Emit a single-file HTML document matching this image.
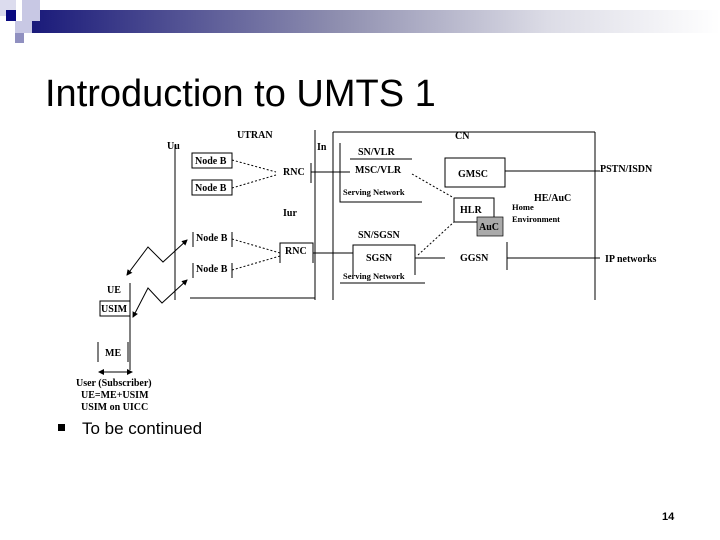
<!DOCTYPE html>
<html><head><meta charset="utf-8"><style>
html,body{margin:0;padding:0;background:#fff;width:720px;height:540px;overflow:hidden}
svg{display:block}
.s{font-family:"Liberation Serif",serif;font-weight:bold;font-size:10px}
</style></head><body>
<svg width="720" height="540" viewBox="0 0 720 540" xmlns="http://www.w3.org/2000/svg">
<defs>
<linearGradient id="g" x1="0" x2="1" y1="0" y2="0">
<stop offset="0" stop-color="#1a1a7a"/><stop offset="0.45" stop-color="#9090b0"/><stop offset="0.75" stop-color="#dcdce6"/><stop offset="1" stop-color="#fff"/>
</linearGradient>
<marker id="a" markerWidth="6" markerHeight="6" refX="5" refY="3" orient="auto"><path d="M0,0L6,3L0,6z" fill="#000"/></marker>
<marker id="b" markerWidth="6" markerHeight="6" refX="1" refY="3" orient="auto"><path d="M6,0L0,3L6,6z" fill="#000"/></marker>
</defs>
<rect x="32" y="10" width="688" height="23" fill="url(#g)"/>
<rect x="0" y="0" width="16" height="16" fill="#dcdcee"/>
<rect x="22" y="0" width="18" height="21" fill="#c8c8e4"/>
<rect x="6" y="10" width="10" height="11" fill="#0a0a80"/>
<rect x="15" y="21" width="17" height="12" fill="#c8c8e4"/>
<rect x="15" y="33" width="9" height="10" fill="#9090c0"/>
<text x="45" y="106" font-family="Liberation Sans,sans-serif" font-size="38" fill="#000">Introduction to UMTS 1</text>

<g stroke="#000" stroke-width="1" fill="none">
<line x1="175" y1="145" x2="175" y2="300"/>
<line x1="190" y1="298" x2="315" y2="298"/>
<line x1="315" y1="130" x2="315" y2="300"/>
<line x1="333" y1="132" x2="333" y2="300"/>
<line x1="333" y1="132" x2="595" y2="132"/>
<line x1="595" y1="132" x2="595" y2="300"/>
<rect x="192" y="153" width="40" height="15"/>
<rect x="192" y="180" width="40" height="15"/>
<polyline points="193,247 193,232"/><line x1="232" y1="232" x2="232" y2="247"/>
<polyline points="193,278 193,263"/><line x1="232" y1="263" x2="232" y2="278"/>
<line x1="311" y1="163" x2="311" y2="183"/>
<line x1="311" y1="172" x2="350" y2="172"/>
<polyline points="280,263 280,243 313,243 313,263"/>
<line x1="313" y1="253" x2="353" y2="253"/>
<g stroke-dasharray="2,2">
<line x1="232" y1="160" x2="276" y2="172"/><line x1="232" y1="188" x2="276" y2="175"/>
<line x1="232" y1="239" x2="280" y2="253"/><line x1="232" y1="270" x2="280" y2="256"/>
<line x1="412" y1="174" x2="454" y2="198"/><line x1="418" y1="255" x2="454" y2="222"/>
</g>
<polyline points="127,275 148,247 163,262 187,240" marker-start="url(#b)" marker-end="url(#a)"/>
<polyline points="133,317 148,288 162,303 187,280" marker-start="url(#b)" marker-end="url(#a)"/>
<line x1="130" y1="283" x2="130" y2="370"/>
<rect x="100" y="301" width="30" height="15"/>
<line x1="98" y1="342" x2="98" y2="362"/><line x1="128" y1="342" x2="128" y2="362"/>
<line x1="99" y1="372" x2="132" y2="372" marker-start="url(#b)" marker-end="url(#a)"/>
<polyline points="340,143 340,202 422,202"/>
<line x1="350" y1="159" x2="412" y2="159"/>
<rect x="445" y="158" width="60" height="29"/>
<line x1="505" y1="171" x2="600" y2="171"/>
<polyline points="454,198 454,222 494,222 494,198 454,198"/>
<polyline points="353,275 353,245 415,245 415,275"/>
<line x1="340" y1="283" x2="425" y2="283"/>
<line x1="415" y1="258" x2="445" y2="258"/>
<line x1="507" y1="242" x2="507" y2="270"/>
<line x1="507" y1="258" x2="600" y2="258"/>
</g>
<rect x="477" y="217" width="26" height="19" fill="#aaa" stroke="#000" stroke-width="0.7"/>
<g class="s">
<text x="167" y="149">Uu</text>
<text x="237" y="138">UTRAN</text>
<text x="195" y="164">Node B</text>
<text x="195" y="191">Node B</text>
<text x="196" y="241">Node B</text>
<text x="196" y="272">Node B</text>
<text x="283" y="175">RNC</text>
<text x="283" y="216">Iur</text>
<text x="285" y="254">RNC</text>
<text x="317" y="150">In</text>
<text x="455" y="139">CN</text>
<text x="358" y="155">SN/VLR</text>
<text x="355" y="173">MSC/VLR</text>
<text x="343" y="195" font-size="8.5">Serving Network</text>
<text x="458" y="177">GMSC</text>
<text x="600" y="172">PSTN/ISDN</text>
<text x="534" y="201">HE/AuC</text>
<text x="460" y="213">HLR</text>
<text x="479" y="230">AuC</text>
<text x="512" y="210" font-size="8.5">Home</text>
<text x="512" y="222" font-size="8.5">Environment</text>
<text x="358" y="238">SN/SGSN</text>
<text x="366" y="261">SGSN</text>
<text x="343" y="279" font-size="8.5">Serving Network</text>
<text x="460" y="261">GGSN</text>
<text x="605" y="262">IP networks</text>
<text x="107" y="293">UE</text>
<text x="101" y="312">USIM</text>
<text x="105" y="356">ME</text>
<text x="76" y="386">User (Subscriber)</text>
<text x="81" y="398">UE=ME+USIM</text>
<text x="81" y="410">USIM on UICC</text>
</g>
<rect x="58" y="424" width="7" height="7" fill="#000"/>
<text x="82" y="434" font-family="Liberation Sans,sans-serif" font-size="17">To be continued</text>
<text x="662" y="520" font-family="Liberation Sans,sans-serif" font-size="11" font-weight="bold">14</text>
</svg>
</body></html>
